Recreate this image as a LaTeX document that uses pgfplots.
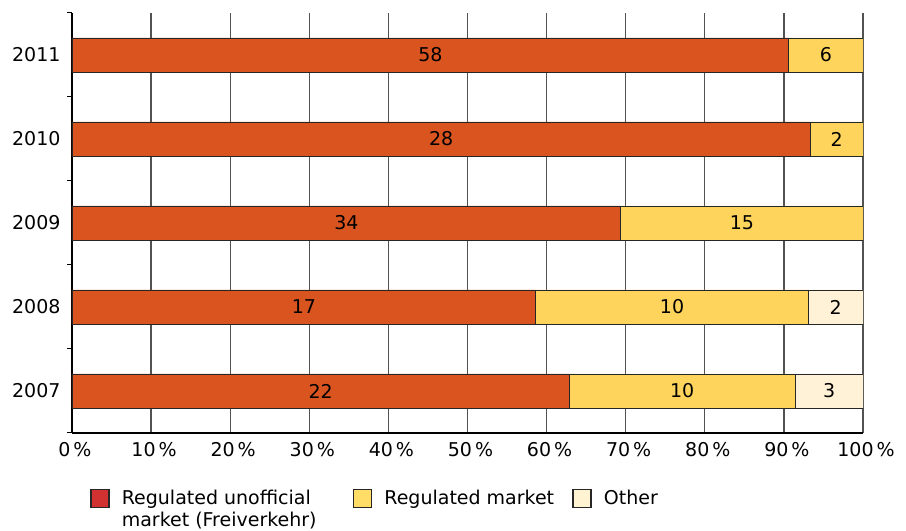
\documentclass[border=0pt]{standalone}
\usepackage{fontspec}
\setmainfont{DejaVu Sans}
\usepackage{pgfplots}
\pgfplotsset{compat=1.18}
\usetikzlibrary{calc}
\definecolor{cRUM}{HTML}{DA5420}
\definecolor{cRM}{HTML}{FFD45C}
\definecolor{cOth}{HTML}{FFF2D6}
\definecolor{lRUM}{HTML}{D03232}
\definecolor{lRM}{HTML}{FFDD66}
\definecolor{lOth}{HTML}{FFF3D2}
\pgfplotsset{
  sqimg/.style={legend image code/.code={
    \draw[##1,draw=black!85,line width=1.6bp] (0bp,-3bp) rectangle (18bp,15bp);}}
}
\begin{document}
\begin{tikzpicture}[font=\fontsize{19bp}{22bp}\selectfont]
\begin{axis}[
  scale only axis, width=791bp, height=420bp,
  xbar stacked, bar width=34bp,
  xmin=0, xmax=100, ymin=0.5, ymax=5.5,
  axis x line*=bottom, axis y line*=left,
  axis line style={line width=1.3bp, black},
  xtick={0,10,...,100},
  /pgf/number format/assume math mode=true,
  xticklabel={\pgfmathprintnumber{\tick}\kern3bp\%},
  xmajorgrids, major grid style={draw=black!68, line width=1.3bp},
  ytick={1,...,5}, yticklabels={2007,2008,2009,2010,2011},
  minor ytick={0.5,1.5,...,5.5},
  major tick length=0pt, minor tick length=5bp, tick align=outside,
  minor tick style={line width=1bp, black},
  yticklabel style={xshift=-8bp},
  xticklabel style={yshift=-6bp, xshift=3bp},
  point meta=explicit symbolic,
  nodes near coords,
  every node near coord/.append style={text=black},
  legend columns=3,
  legend style={at={(0.0228,-0.128)}, anchor=north west, draw=none, fill=none,
    inner sep=0pt, cells={anchor=base west, inner sep=0pt},
    /tikz/every odd column/.append style={column sep=10bp},
    /tikz/every even column/.append style={column sep=0bp}},
]
\coordinate (bl) at (rel axis cs:0,0);
\coordinate (tr) at (rel axis cs:1,1);
\addplot+[fill=cRUM, draw=black!85, line width=0.9bp, forget plot] coordinates {
  (62.857,1) [22]
  (58.621,2) [17]
  (69.388,3) [34]
  (93.333,4) [28]
  (90.625,5) [58]
};
\addplot+[fill=cRM, draw=black!85, line width=0.9bp, forget plot] coordinates {
  (28.571,1) [10]
  (34.482,2) [10]
  (30.612,3) [15]
  (6.667,4) [2]
  (9.375,5) [6]
};
\addplot+[fill=cOth, draw=black!85, line width=0.9bp, forget plot] coordinates {
  (8.571,1) [3]
  (6.896,2) [2]
};
\addlegendimage{sqimg, fill=lRUM}
\addlegendentry{\makebox[229bp][l]{\begin{tabular}[t]{@{}l@{}}Regulated unofficial\\market (Freiverkehr)\end{tabular}}}
\addlegendimage{sqimg, fill=lRM}
\addlegendentry{\makebox[186bp][l]{Regulated market}}
\addlegendimage{sqimg, fill=lOth}
\addlegendentry{Other}
\end{axis}
\path ($(bl)+(-72bp,-98bp)$) rectangle ($(tr)+(43bp,13bp)$);
\end{tikzpicture}
\end{document}
